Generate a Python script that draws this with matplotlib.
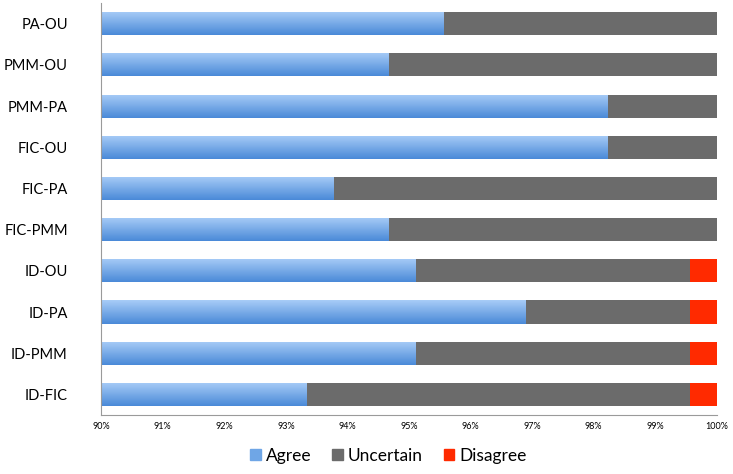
import numpy as np
import matplotlib.pyplot as plt
from matplotlib.colors import LinearSegmentedColormap
from matplotlib.patches import Patch

# pairs, top to bottom
pairs = ["PA-OU", "PMM-OU", "PMM-PA", "FIC-OU", "FIC-PA",
         "FIC-PMM", "ID-OU", "ID-PA", "ID-PMM", "ID-FIC"]
agree = [95.56, 94.67, 98.22, 98.22, 93.78, 94.67, 95.11, 96.89, 95.11, 93.33]
disagree = [0, 0, 0, 0, 0, 0, 0.44, 0.44, 0.44, 0.44]
uncertain = [100 - a - d for a, d in zip(agree, disagree)]
xticks = np.arange(90, 101, 1)
xlabels = [f"{t}%" for t in xticks]

plt.rcParams['font.family'] = ['Lato', 'DejaVu Sans']

fig = plt.figure(figsize=(7.33, 4.74), dpi=100)
ax = fig.add_axes([0.138, 0.1245, 0.840, 0.869])

y = np.arange(len(pairs))[::-1]
h = 0.56
blue_cmap = LinearSegmentedColormap.from_list("b", ["#4a8ad8", "#a8ccf7"])

bars = ax.barh(y, np.array(agree) - 90, left=90, height=h, color="#6fa6e6", label="Agree")
ax.barh(y, uncertain, left=agree, height=h, color="#6b6b6b", label="Uncertain")
ax.barh(y, disagree, left=np.array(agree) + np.array(uncertain), height=h,
        color="#ff2a00", label="Disagree")

# vertical gradient on the Agree bars
grad = np.linspace(0, 1, 64).reshape(-1, 1)
for b in bars:
    x0, y0 = b.get_x(), b.get_y()
    im = ax.imshow(grad, extent=[x0, x0 + b.get_width(), y0, y0 + b.get_height()],
                   cmap=blue_cmap, aspect="auto", origin="lower", zorder=b.get_zorder())
    im.set_clip_path(b)

ax.set_xlim(90, 100)
ax.set_ylim(-0.5, len(pairs) - 0.5)
ax.set_xticks(xticks)
ax.set_xticklabels(xlabels, fontsize=6.5)
ax.set_yticks(y)
ax.set_yticklabels(pairs, fontsize=10.5)
ax.tick_params(axis="y", length=0, pad=24)
ax.tick_params(axis="x", length=0, pad=5)
for s in ["top", "right"]:
    ax.spines[s].set_visible(False)
for s in ["left", "bottom"]:
    ax.spines[s].set_color("#9a9a9a")

handles = [Patch(color="#6fa6e6", label="Agree"),
           Patch(color="#6b6b6b", label="Uncertain"),
           Patch(color="#ff2a00", label="Disagree")]
fig.legend(handles=handles, loc="lower center", bbox_to_anchor=(0.53, -0.012), ncol=3,
           frameon=False, fontsize=12.5, handlelength=0.6, handleheight=0.6,
           handletextpad=0.3, columnspacing=1.2)

fig.savefig("out.png", dpi=100)
